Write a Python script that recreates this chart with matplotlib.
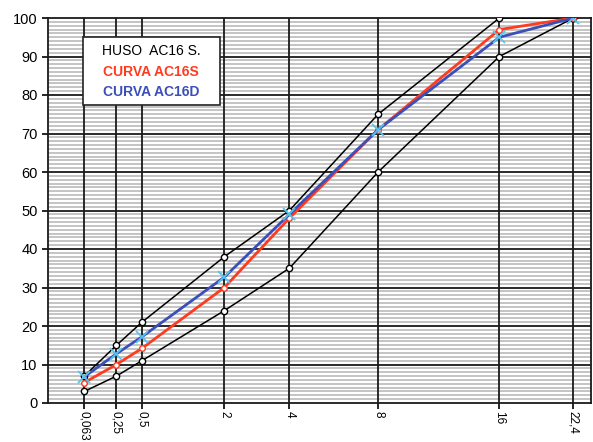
import numpy as np
import matplotlib
matplotlib.use("Agg")
import matplotlib.pyplot as plt
from matplotlib.ticker import FixedLocator, MultipleLocator

plt.rcParams['font.family'] = ['Liberation Sans', 'DejaVu Sans']

# tamices (mm)
sieves = [0.063, 0.25, 0.5, 2, 4, 8, 16, 22.4]
sieve_labels = ["0,063", "0,25", "0,5", "2", "4", "8", "16", "22,4"]

# huso AC16 S (limites)
huso_sup = [7, 15, 21, 38, 50, 75, 100, 100]
huso_inf = [3, 7, 11, 24, 35, 60, 90, 100]

# curvas granulometricas
curva_s = [5.3, 10, 14.2, 30, 48, 71, 97, 100]
curva_d = [6.8, 12.8, 17.2, 32.7, 49, 71, 95, 100]

# escala x^0.45 (curva de Fuller)
fwd = lambda x: np.sign(x) * np.abs(x) ** 0.45
inv = lambda u: np.sign(u) * np.abs(u) ** (1 / 0.45)

fig = plt.figure(figsize=(5.93, 4.42), dpi=100)
ax = fig.add_axes([48 / 593, 1 - 403 / 442, 543 / 593, 385 / 442])
ax.set_xscale('function', functions=(fwd, inv))

ax.plot(sieves, huso_sup, color='black', lw=1.1, marker='o', ms=4.5,
        mfc='white', mec='black', mew=1.0, zorder=4)
ax.plot(sieves, huso_inf, color='black', lw=1.1, marker='o', ms=4.5,
        mfc='white', mec='black', mew=1.0, zorder=4)
ax.plot(sieves, curva_s, color='#ff3b1f', lw=2.0, marker='o', ms=4,
        mfc='white', mec='#ff3b1f', mew=1.0, zorder=5)
ax.plot(sieves, curva_d, color='#3b4fb8', lw=2.0, marker='x', ms=8,
        mec='#55c4ee', mew=1.3, zorder=6)

ax.set_xlim(2.8e-5, 24.1)
ax.set_ylim(0, 100)

ax.xaxis.set_major_locator(FixedLocator(sieves))
ax.set_xticklabels(sieve_labels, rotation=270, fontsize=8.5)
ax.xaxis.set_minor_locator(FixedLocator([]))
ax.yaxis.set_major_locator(MultipleLocator(10))
ax.yaxis.set_minor_locator(MultipleLocator(1))
ax.tick_params(axis='y', which='major', labelsize=10.5, length=4, width=1.2)
ax.tick_params(axis='y', which='minor', length=0)
ax.tick_params(axis='x', length=4, width=1.2, pad=2)

# rejilla: gris fina cada 1 %, negra cada 10 % y en cada tamiz
ax.grid(which='minor', axis='y', color='#c4c4c4', lw=1.4, zorder=0)
ax.set_axisbelow(True)
for v in range(10, 100, 10):
    ax.axhline(v, color='#1a1a1a', lw=1.3, zorder=1)
for s in sieves:
    ax.axvline(s, color='#1a1a1a', lw=1.3, zorder=1)
for s in ax.spines.values():
    s.set_color('#1a1a1a')
    s.set_linewidth(1.3)

# cuadro de leyenda
box = plt.Rectangle((0.0645, 0.774), 0.252, 0.177, transform=ax.transAxes,
                    fc='white', ec='#222222', lw=1.2, zorder=7)
ax.add_patch(box)
ax.text(0.19, 0.915, "HUSO  AC16 S.", transform=ax.transAxes, fontsize=10,
        ha='center', va='center', color='black', zorder=9)
ax.text(0.19, 0.861, "CURVA AC16S", transform=ax.transAxes, fontsize=10,
        ha='center', va='center', color='#ff3b1f', weight='bold', zorder=9)
ax.text(0.19, 0.807, "CURVA AC16D", transform=ax.transAxes, fontsize=10,
        ha='center', va='center', color='#3b4fb8', weight='bold', zorder=9)

fig.savefig("out.png", dpi=100)
